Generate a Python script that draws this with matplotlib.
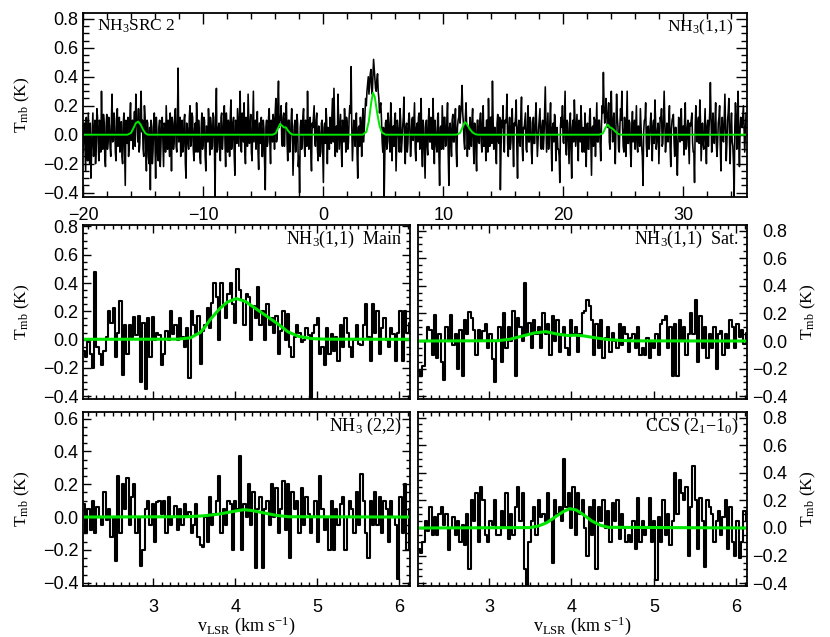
import matplotlib
matplotlib.use('Agg')
import matplotlib.pyplot as plt
import numpy as np
from matplotlib.ticker import MultipleLocator

# full NH3(1,1) spectrum, T_mb in K: channels at v0 + k*dv ...
v0_top, dv_top = -20.0, 0.11
t_top = [
    -0.12, 0.08, -0.25, -0.05, 0.15, -0.20, -0.30, 0.02, -0.15, 0.10,
    -0.08, 0.12, -0.18, 0.05, 0.30, -0.10, 0.08, -0.22, 0.14, -0.05,
    0.06, -0.15, 0.28, -0.04, 0.10, -0.18, 0.18, -0.02, -0.12, 0.09,
    -0.20, 0.15, -0.35, 0.04, 0.12, -0.08, 0.22, 0.02, -0.10, 0.16,
    0.28, 0.05, 0.18, -0.06, 0.30, 0.10, -0.15, 0.12, -0.25, 0.08,
    -0.20, -0.38, 0.05, -0.12, 0.15, -0.30, 0.02, -0.18, 0.10, -0.08,
    0.12, -0.22, 0.06, 0.20, -0.10, -0.02, 0.15, -0.25, 0.08, -0.05,
    0.18, -0.12, 0.46, 0.00, -0.15, 0.10, -0.08, 0.14, -0.30, 0.05,
    -0.10, 0.20, -0.05, 0.12, -0.18, 0.08, 0.22, -0.12, 0.02, -0.20,
    0.15, -0.06, 0.10, -0.25, 0.05, 0.18, -0.14, 0.06, -0.08, 0.12,
    -0.45, 0.32, -0.10, 0.08, -0.18, 0.15, -0.02, 0.20, -0.22, 0.04,
    0.10, -0.15, 0.24, -0.05, 0.12, -0.28, 0.06, 0.18, -0.08, 0.30,
    -0.12, 0.08, 0.22, -0.20, 0.05, 0.28, -0.06, 0.14, -0.18, 0.30,
    0.02, -0.10, 0.16, -0.24, 0.08, 0.12, -0.15, 0.04, -0.38, 0.10,
    -0.05, 0.18, -0.20, 0.08, 0.14, -0.10, 0.25, -0.02, 0.37, 0.12,
    0.20, -0.08, 0.15, 0.05, 0.22, -0.18, 0.10, -0.05, 0.18, -0.28,
    0.06, -0.12, 0.14, -0.22, -0.40, 0.10, -0.05, 0.18, -0.15, 0.08,
    0.30, -0.10, 0.12, -0.25, 0.05, 0.20, -0.08, 0.15, -0.18, 0.02,
    -0.12, 0.10, -0.33, 0.08, 0.18, -0.20, 0.04, 0.12, -0.06, 0.25,
    0.32, -0.15, 0.06, 0.28, -0.10, 0.14, -0.22, 0.05, 0.18, -0.12,
    0.08, -0.05, 0.20, 0.47, -0.18, 0.10, -0.08, 0.15, -0.30, 0.06,
    0.12, -0.15, 0.18, 0.05, 0.25, 0.30, 0.40, 0.35, 0.45, 0.28,
    0.52, 0.38, 0.30, 0.42, 0.25, 0.20, 0.10, -0.12, -0.45, 0.08,
    -0.10, 0.15, -0.05, 0.22, -0.18, 0.06, 0.12, -0.25, 0.10, -0.02,
    0.18, -0.12, 0.05, 0.26, -0.20, 0.08, -0.06, 0.15, -0.15, 0.10,
    -0.04, 0.22, -0.18, 0.08, 0.12, -0.10, 0.25, -0.22, 0.05, -0.30,
    0.10, -0.14, 0.18, -0.05, 0.08, 0.25, -0.20, 0.02, -0.12, 0.15,
    -0.35, 0.06, 0.20, -0.10, 0.12, -0.06, 0.22, -0.35, 0.08, -0.15,
    0.14, -0.05, 0.18, -0.22, 0.10, 0.20, 0.15, 0.34, 0.08, -0.10,
    0.22, -0.15, 0.05, 0.12, -0.08, 0.18, -0.20, 0.06, -0.25, 0.10,
    -0.06, 0.15, -0.12, 0.20, 0.02, -0.18, 0.10, 0.25, -0.08, 0.12,
    0.37, -0.10, 0.05, -0.20, 0.14, -0.06, -0.38, 0.10, 0.20, -0.12,
    0.08, 0.28, -0.15, 0.12, -0.05, 0.18, -0.22, 0.06, 0.24, -0.30,
    0.10, -0.08, 0.26, -0.18, 0.04, 0.15, -0.12, 0.20, -0.05, 0.08,
    -0.20, 0.12, -0.06, 0.22, -0.15, 0.05, 0.18, -0.10, 0.10, -0.02,
    0.33, -0.12, 0.15, -0.05, 0.22, -0.25, 0.08, 0.14, -0.18, 0.05,
    -0.10, -0.33, 0.12, 0.20, -0.06, 0.30, -0.14, 0.08, -0.20, 0.15,
    -0.30, 0.10, 0.24, -0.08, 0.14, -0.18, 0.05, 0.20, -0.12, 0.02,
    0.15, -0.22, 0.08, -0.10, 0.18, -0.28, 0.06, 0.12, -0.15, 0.22,
    -0.05, 0.10, -0.18, 0.20, 0.43, 0.08, 0.25, 0.05, 0.22, -0.10,
    0.30, -0.05, 0.15, -0.20, 0.28, 0.06, -0.12, 0.18, 0.30, -0.08,
    0.12, -0.15, 0.30, -0.06, 0.08, -0.22, 0.16, 0.02, -0.10, 0.20,
    -0.12, 0.05, 0.18, -0.08, -0.35, 0.10, 0.22, -0.15, 0.06, -0.05,
    0.15, -0.18, 0.10, 0.24, -0.10, 0.04, -0.20, 0.12, 0.18, -0.06,
    0.30, -0.12, 0.08, -0.05, 0.20, -0.22, 0.10, 0.14, -0.15, 0.05,
    -0.28, 0.12, -0.05, 0.18, 0.02, -0.14, 0.22, -0.08, 0.10, -0.20,
    0.06, 0.15, -0.12, -0.33, 0.20, -0.05, 0.12, 0.24, -0.18, 0.08,
    -0.10, 0.18, -0.20, 0.10, 0.05, 0.36, -0.12, 0.15, -0.06, 0.22,
    -0.15, 0.08, 0.20, -0.25, 0.12, -0.05, 0.28, -0.18, 0.10, 0.25,
    -0.20, 0.15, -0.08, -0.45, 0.22, -0.10, 0.30, -0.22, 0.12, 0.05,
    0.20, -0.12, 0.15,
]
# ... and the channels halfway between them, at v0 + (k + 0.5)*dv
t_top_mid = [
    0.05, -0.10, 0.12, -0.18, -0.02, 0.08, -0.12, 0.15, -0.05, -0.20,
    0.18, -0.05, 0.10, -0.12, 0.02, 0.14, -0.15, 0.06, -0.10, 0.12,
    -0.08, 0.10, -0.05, 0.15, -0.12, 0.05, -0.08, 0.12, 0.04, -0.15,
    0.08, -0.12, 0.10, -0.06, -0.15, 0.12, -0.04, 0.10, 0.05, -0.08,
    0.10, -0.05, -0.12, 0.15, 0.02, -0.10, 0.20, -0.05, 0.10, -0.15,
    0.05, 0.10, -0.20, 0.08, -0.05, 0.12, -0.15, 0.05, -0.22, 0.10,
    -0.05, 0.08, -0.12, 0.04, 0.10, -0.15, 0.05, 0.12, -0.10, 0.15,
    -0.08, 0.10, -0.05, 0.12, 0.06, -0.12, 0.10, -0.20, 0.08, -0.06,
    0.12, -0.08, 0.15, -0.10, 0.04, -0.12, 0.08, 0.10, -0.15, 0.05,
    -0.10, 0.12, -0.15, 0.06, -0.05, 0.08, 0.12, -0.10, 0.15, -0.06,
    0.10, -0.12, 0.05, -0.08, 0.12, -0.10, 0.08, -0.05, 0.15, -0.12,
    0.06, 0.12, -0.10, 0.08, -0.15, 0.10, -0.06, 0.05, 0.14, -0.10,
    0.15, -0.05, -0.10, 0.12, -0.08, 0.10, 0.05, -0.12, 0.08, -0.05,
    0.10, 0.05, -0.12, 0.08, -0.06, -0.15, 0.10, -0.20, 0.05, -0.08,
    0.12, -0.06, 0.10, -0.05, 0.08, 0.15, -0.05, 0.20, 0.05, 0.10,
    -0.05, 0.12, -0.08, 0.15, -0.05, 0.10, -0.12, 0.08, 0.05, -0.10,
    0.10, -0.05, 0.08, -0.15, 0.05, -0.10, 0.12, -0.06, 0.10, -0.08,
    0.05, 0.10, -0.12, 0.08, 0.12, -0.05, 0.10, -0.10, 0.06, -0.15,
    0.08, -0.12, 0.05, -0.06, 0.10, 0.05, -0.10, 0.08, 0.15, -0.05,
    0.10, 0.05, -0.12, 0.12, 0.02, -0.08, 0.10, -0.05, 0.08, 0.12,
    -0.10, 0.12, 0.15, 0.05, -0.05, 0.02, 0.10, -0.12, 0.05, -0.08,
    0.05, 0.10, -0.05, 0.15, 0.20, 0.35, 0.28, 0.42, 0.32, 0.40,
    0.45, 0.32, 0.38, 0.30, 0.15, 0.22, -0.05, 0.05, -0.15, 0.10,
    -0.05, 0.08, -0.12, 0.10, 0.05, -0.08, 0.15, -0.06, 0.05, -0.12,
    0.10, -0.05, 0.12, -0.08, 0.05, -0.12, 0.10, 0.04, -0.05, 0.12,
    0.08, -0.10, 0.05, -0.05, 0.15, 0.06, -0.08, 0.10, -0.12, 0.05,
    -0.08, 0.10, -0.05, 0.12, -0.10, 0.05, 0.10, -0.08, 0.12, -0.15,
    0.05, -0.10, 0.06, 0.12, -0.08, 0.10, -0.12, 0.05, -0.05, 0.10,
    -0.05, 0.10, -0.10, 0.05, 0.12, 0.08, 0.20, 0.15, -0.05, 0.12,
    0.06, 0.05, -0.10, 0.04, 0.10, -0.06, 0.08, -0.12, 0.10, -0.05,
    0.10, -0.05, 0.12, -0.08, 0.05, 0.10, -0.12, 0.05, 0.12, -0.06,
    0.10, 0.05, -0.12, 0.08, -0.05, 0.12, -0.10, 0.05, -0.05, 0.10,
    0.12, -0.06, 0.05, -0.10, 0.10, -0.05, 0.08, 0.12, -0.10, 0.05,
    -0.05, 0.12, -0.08, 0.05, 0.10, -0.10, 0.06, -0.05, 0.12, -0.12,
    0.05, -0.06, 0.10, 0.02, -0.05, 0.12, -0.08, 0.06, -0.10, 0.15,
    0.08, 0.02, -0.10, 0.10, -0.06, 0.05, -0.05, 0.12, 0.04, -0.10,
    -0.15, 0.06, 0.05, -0.05, 0.12, -0.08, 0.10, -0.06, 0.05, -0.10,
    0.05, -0.05, 0.10, 0.04, -0.06, 0.10, -0.05, 0.08, 0.05, -0.12,
    0.05, 0.06, -0.10, 0.12, -0.06, 0.05, -0.08, 0.10, 0.04, -0.05,
    0.10, -0.06, 0.05, 0.15, 0.20, 0.12, 0.15, 0.10, -0.05, 0.15,
    0.08, 0.10, -0.05, 0.05, 0.12, -0.10, 0.06, 0.10, 0.05, -0.12,
    0.05, 0.08, -0.06, 0.10, -0.12, 0.05, -0.05, 0.10, 0.06, -0.08,
    0.06, -0.08, 0.05, -0.15, 0.02, 0.10, -0.06, 0.05, -0.10, 0.08,
    0.02, 0.05, -0.06, 0.10, -0.05, 0.08, -0.04, 0.10, -0.08, 0.12,
    0.10, -0.05, 0.05, 0.10, -0.08, 0.04, 0.12, -0.05, 0.05, -0.12,
    -0.06, 0.05, 0.10, -0.04, 0.06, 0.10, -0.10, 0.05, -0.05, 0.08,
    0.10, -0.05, -0.12, 0.05, 0.08, 0.05, -0.06, 0.10, -0.04, -0.06,
    0.05, -0.05, 0.06, -0.08, 0.15, 0.10, 0.05, -0.05, 0.10, -0.06,
    -0.05, 0.12, -0.08, 0.05, -0.04, 0.12, 0.05, -0.06, 0.15, -0.05,
    0.06, -0.05, -0.20, 0.05, 0.10, 0.12, -0.05, 0.04, 0.10, 0.12,
    0.05, 0.02,
]

# zoomed spectra, shared channel grid
v0_lo, dv_lo = 2.15, 0.028
t_main = [
    -0.08, -0.12, -0.02, -0.10, -0.20, 0.48, -0.05, -0.10, -0.18, -0.08,
    0.02, 0.20, 0.12, 0.22, -0.12, 0.05, 0.27, -0.25, 0.10, -0.10,
    0.10, 0.02, 0.16, 0.03, 0.17, -0.30, 0.12, -0.35, 0.15, -0.12,
    0.16, 0.00, 0.05, 0.03, -0.18, -0.10, 0.06, 0.00, 0.20, 0.04,
    0.10, 0.00, 0.15, 0.02, -0.05, 0.08, -0.27, 0.20, 0.10, 0.05,
    0.17, -0.17, 0.06, 0.10, 0.22, 0.08, 0.26, 0.40, 0.30, 0.00,
    0.40, 0.25, 0.15, 0.32, 0.40, 0.25, 0.12, 0.50, 0.35, 0.28,
    0.10, 0.32, 0.30, 0.00, 0.24, 0.15, 0.37, 0.10, 0.20, 0.00,
    0.25, 0.10, 0.15, 0.05, 0.17, -0.10, 0.06, 0.20, 0.00, 0.18,
    -0.05, -0.12, 0.02, 0.10, 0.05, -0.02, 0.00, 0.08, 0.03, -0.42,
    0.05, 0.10, 0.15, -0.10, -0.05, -0.18, 0.08, -0.10, 0.04, -0.08,
    0.02, -0.15, 0.10, -0.05, 0.15, 0.05, -0.05, -0.12, 0.00, 0.10,
    -0.03, -0.04, 0.10, 0.25, 0.02, -0.15, 0.25, 0.05, 0.20, -0.10,
    0.08, 0.15, 0.00, -0.05, 0.08, 0.04, -0.15, 0.05, 0.20, -0.15, 0.20, 0.05, 0.12,
]
t_sat = [
    -0.22, -0.25, -0.18, 0.00, 0.10, 0.08, -0.10, 0.19, -0.12, 0.05,
    -0.15, -0.28, 0.10, 0.00, 0.19, -0.03, 0.05, -0.20, 0.08, -0.25,
    0.15, 0.05, 0.21, 0.17, 0.08, -0.10, 0.08, 0.00, 0.07, 0.12,
    -0.05, 0.05, -0.13, -0.30, 0.00, 0.10, -0.15, 0.20, -0.05, 0.10,
    0.00, 0.22, -0.25, 0.17, 0.10, 0.00, 0.42, 0.05, 0.13, -0.05,
    0.15, 0.05, 0.10, -0.05, 0.20, 0.05, 0.12, -0.10, 0.18, 0.00,
    0.15, -0.08, 0.05, 0.10, -0.05, -0.10, 0.15, 0.05, 0.10, -0.08,
    0.05, 0.20, 0.22, 0.30, 0.25, 0.15, -0.10, 0.12, -0.05, 0.15,
    -0.12, 0.02, 0.10, -0.08, 0.06, 0.00, -0.05, 0.12, -0.03, 0.10,
    0.05, -0.08, 0.02, 0.05, -0.05, 0.10, -0.10, -0.05, -0.10, 0.02,
    -0.12, 0.00, -0.05, 0.05, -0.10, 0.12, 0.15, 0.18, -0.05, 0.10,
    -0.25, 0.12, -0.25, 0.15, 0.00, 0.10, -0.10, 0.05, 0.20, 0.05,
    0.30, -0.15, 0.18, -0.05, 0.10, -0.12, 0.05, -0.05, 0.10, -0.20,
    0.05, 0.07, -0.10, 0.05, -0.05, 0.15, 0.10, -0.05, 0.12, 0.03, 0.08, -0.02, 0.06,
]
t_22 = [
    0.08, -0.10, 0.05, -0.08, 0.10, -0.10, 0.06, 0.00, -0.05, 0.15,
    -0.02, 0.05, -0.12, 0.00, -0.27, 0.25, -0.10, 0.20, 0.05, 0.24,
    -0.05, 0.12, 0.20, -0.10, 0.00, -0.30, -0.20, 0.05, 0.10, -0.05,
    0.08, -0.15, 0.09, 0.10, 0.02, 0.10, -0.10, 0.12, -0.05, 0.00,
    0.07, -0.08, 0.05, -0.05, 0.08, 0.00, 0.03, -0.10, -0.05, 0.08,
    -0.12, -0.17, -0.18, 0.00, -0.15, 0.12, -0.05, 0.02, 0.10, 0.25,
    -0.10, 0.05, -0.05, 0.10, 0.08, -0.20, 0.10, 0.05, 0.37, -0.20,
    0.08, 0.00, 0.20, -0.05, 0.15, -0.31, 0.05, 0.12, -0.31, 0.05,
    0.10, -0.05, 0.20, 0.00, 0.18, -0.10, 0.05, 0.22, -0.08, 0.20,
    -0.25, 0.15, 0.05, 0.10, -0.10, 0.18, -0.05, 0.12, 0.02, -0.10,
    0.00, 0.10, -0.15, 0.25, 0.05, -0.08, 0.00, -0.20, 0.10, -0.20,
    0.05, -0.05, 0.08, 0.12, -0.20, 0.00, 0.10, 0.05, -0.10, 0.15,
    -0.05, 0.26, 0.10, -0.10, -0.25, 0.10, -0.05, 0.15, -0.05, 0.12,
    -0.10, 0.10, 0.05, -0.15, 0.10, 0.00, -0.05, -0.38, 0.12, -0.10, 0.20, -0.20, 0.05,
]
t_ccs = [
    -0.15, -0.18, -0.10, 0.05, -0.02, 0.15, -0.05, 0.08, -0.05, 0.10,
    0.15, 0.02, 0.10, -0.16, 0.00, 0.08, -0.05, 0.05, -0.10, 0.02,
    -0.12, 0.10, -0.30, 0.20, 0.05, 0.25, -0.10, 0.30, 0.20, -0.05,
    -0.10, 0.05, 0.02, 0.20, -0.05, -0.05, 0.12, 0.00, 0.25, -0.08,
    0.10, -0.05, 0.15, 0.30, 0.05, 0.25, -0.30, -0.42, -0.10, 0.05,
    0.15, -0.05, 0.20, 0.08, 0.10, 0.05, 0.25, 0.05, -0.25, 0.20,
    0.10, 0.15, 0.05, 0.50, 0.15, 0.25, 0.00, 0.30, -0.05, 0.25,
    0.10, 0.20, 0.00, -0.20, 0.15, -0.05, 0.20, -0.30, 0.15, 0.05,
    0.20, 0.00, 0.12, -0.10, 0.18, 0.05, 0.20, -0.08, 0.10, 0.00,
    -0.10, -0.05, -0.10, 0.05, -0.15, 0.22, -0.10, 0.05, -0.05, 0.00,
    0.22, -0.10, 0.05, -0.38, 0.08, -0.10, 0.20, -0.05, 0.10, -0.12,
    0.05, 0.40, 0.10, 0.35, 0.25, 0.20, 0.30, -0.20, 0.15, 0.45,
    0.20, -0.15, 0.22, 0.05, -0.28, 0.20, 0.15, 0.10, -0.10, 0.05,
    0.12, -0.05, 0.08, 0.20, -0.15, 0.15, -0.10, -0.20, 0.05, -0.22, -0.10, 0.12, 0.05,
]

# fitted profiles (green), sampled by eye
fit_top_v = [-20, -16.3, -16.0, -15.8, -15.6, -15.4, -15.2, -15.0, -14.8, -14.6,
             -4.2, -3.95, -3.75, -3.58, -3.4, -3.25, -3.1, -2.9, -2.7, -2.5,
             3.3, 3.6, 3.8, 4.0, 4.15, 4.3, 4.5, 4.7, 4.9, 5.2,
             11.1, 11.4, 11.6, 11.8, 12.0, 12.2, 12.45, 12.7, 12.9,
             23.0, 23.3, 23.5, 23.7, 23.9, 24.1, 24.3, 24.55, 24.8,
             35.3]
fit_top_t = [0, 0, 0.012, 0.045, 0.08, 0.091, 0.07, 0.035, 0.01, 0,
             0, 0.01, 0.045, 0.075, 0.06, 0.05, 0.05, 0.025, 0.007, 0,
             0, 0.02, 0.09, 0.22, 0.29, 0.26, 0.15, 0.06, 0.015, 0,
             0, 0.012, 0.05, 0.087, 0.07, 0.04, 0.015, 0.003, 0,
             0, 0.01, 0.045, 0.07, 0.05, 0.042, 0.025, 0.006, 0,
             0]
fit_main_v = [2.1, 3.3, 3.45, 3.57, 3.63, 3.69, 3.75, 3.81, 3.9, 4.01, 4.12,
              4.22, 4.32, 4.42, 4.52, 4.64, 4.77, 4.93, 5.1, 6.2]
fit_main_t = [0.002, 0.003, 0.012, 0.05, 0.09, 0.14, 0.18, 0.22, 0.265, 0.29, 0.27,
              0.23, 0.19, 0.15, 0.11, 0.055, 0.023, 0.007, 0.003, 0.002]
fit_sat_v = [2.1, 3.1, 3.25, 3.4, 3.55, 3.69, 3.83, 3.95, 4.05, 4.15, 4.3, 4.45, 4.6, 4.75, 6.2]
fit_sat_t = [0.0, 0.002, 0.012, 0.035, 0.058, 0.068, 0.05, 0.04, 0.042, 0.037, 0.022, 0.01, 0.004, 0.001, 0.0]
fit_22_v = [2.1, 3.4, 3.6, 3.8, 3.95, 4.1, 4.2, 4.35, 4.5, 4.65, 6.2]
fit_22_t = [0.0, 0.002, 0.007, 0.018, 0.032, 0.045, 0.04, 0.025, 0.01, 0.002, 0.0]
fit_ccs_v = [2.1, 3.5, 3.6, 3.7, 3.8, 3.9, 3.98, 4.06, 4.15, 4.25, 4.35, 4.45, 6.2]
fit_ccs_t = [0.0, 0.003, 0.014, 0.038, 0.078, 0.118, 0.14, 0.13, 0.095, 0.05, 0.02, 0.005, 0.0]

GREEN = '#00e600'

plt.rcParams['font.family'] = ['Liberation Serif', 'DejaVu Serif']
plt.rcParams['mathtext.fontset'] = 'custom'
plt.rcParams['mathtext.rm'] = 'Liberation Serif'
plt.rcParams['mathtext.it'] = 'Liberation Serif:italic'
plt.rcParams['axes.linewidth'] = 1.3


def style(ax, xlim, ylim, xmaj, xmin, ticklen):
    ax.set_xlim(xlim)
    ax.set_ylim(ylim)
    ax.xaxis.set_major_locator(MultipleLocator(xmaj))
    ax.xaxis.set_minor_locator(MultipleLocator(xmin))
    ax.yaxis.set_major_locator(MultipleLocator(0.2))
    ax.yaxis.set_minor_locator(MultipleLocator(0.05))
    ax.tick_params(which='both', direction='in', top=True, right=True, width=1.0,
                   labelsize=13, labelfontfamily='Liberation Sans')
    ax.tick_params(which='major', length=ticklen)
    ax.tick_params(which='minor', length=ticklen / 2)


def channels(v0, dv, t):
    return v0 + dv * np.arange(len(t))


# merge the two interleaved channel sets of the full spectrum
n_mid = min(len(t_top) - 1, len(t_top_mid))
t_full = np.empty(2 * n_mid + 1)
t_full[0::2] = t_top[:n_mid + 1]
t_full[1::2] = t_top_mid[:n_mid]

W, H = 830, 637
fig = plt.figure(figsize=(8.3, 6.37), dpi=100)
ax_top = fig.add_axes([83 / W, 1 - 197 / H, 664 / W, 184 / H])
ax_ml = fig.add_axes([83 / W, 1 - 399 / H, 327 / W, 174 / H])
ax_mr = fig.add_axes([418 / W, 1 - 399 / H, 329 / W, 174 / H])
ax_bl = fig.add_axes([83 / W, 1 - 586 / H, 327 / W, 174 / H])
ax_br = fig.add_axes([418 / W, 1 - 586 / H, 329 / W, 174 / H])

# top: whole spectrum
ax_top.plot(channels(v0_top, dv_top / 2, t_full), t_full, color='k', lw=1.15)
ax_top.plot(fit_top_v, fit_top_t, color=GREEN, lw=1.4)
style(ax_top, (-20, 35.3), (-0.43, 0.84), 10, 2, 8)
ax_top.tick_params(axis='x', pad=7)
ax_top.set_ylabel(r'T$_{\rm mb}$ (K)', fontsize=12.5, labelpad=8)
ax_top.text(0.021, 0.975, r'NH$_3$SRC 2', transform=ax_top.transAxes, ha='left', va='top', fontsize=12.5)
ax_top.text(0.979, 0.975, r'NH$_3$(1,1)', transform=ax_top.transAxes, ha='right', va='top', fontsize=12.5)

panels = [
    (ax_ml, t_main, fit_main_v, fit_main_t, (-0.42, 0.81), r'NH$_3$(1,1)  Main', 'left', False),
    (ax_mr, t_sat, fit_sat_v, fit_sat_t, (-0.42, 0.84), r'NH$_3$(1,1)  Sat.', 'right', False),
    (ax_bl, t_22, fit_22_v, fit_22_t, (-0.42, 0.64), r'NH$_3$ (2,2)', 'left', True),
    (ax_br, t_ccs, fit_ccs_v, fit_ccs_t, (-0.42, 0.84), r'CCS (2$_1$$-$1$_0$)', 'right', True),
]

for ax, t, fv, ft, ylim, name, side, bottom in panels:
    ax.plot(channels(v0_lo, dv_lo, t), t, drawstyle='steps-mid', color='k', lw=1.5)
    ax.plot(fv, ft, color=GREEN, lw=2.2)
    style(ax, (2.14, 6.13), ylim, 1, 0.1, 6)
    ax.tick_params(axis='x', pad=9, labelbottom=bottom)
    if side == 'right':
        ax.tick_params(axis='y', labelleft=False, labelright=True, pad=29)
        ax.yaxis.set_label_position('right')
        plt.setp(ax.get_yticklabels(), ha='right')
    ax.set_ylabel(r'T$_{\rm mb}$ (K)', fontsize=12.5, labelpad=8)
    ax.text(0.975, 0.975, name, transform=ax.transAxes, ha='right', va='top', fontsize=13)
    if bottom:
        ax.set_xlabel(r'v$_{\rm LSR}$ (km s$^{-1}$)', fontsize=13, labelpad=-1)

fig.savefig('out.png', dpi=100)
